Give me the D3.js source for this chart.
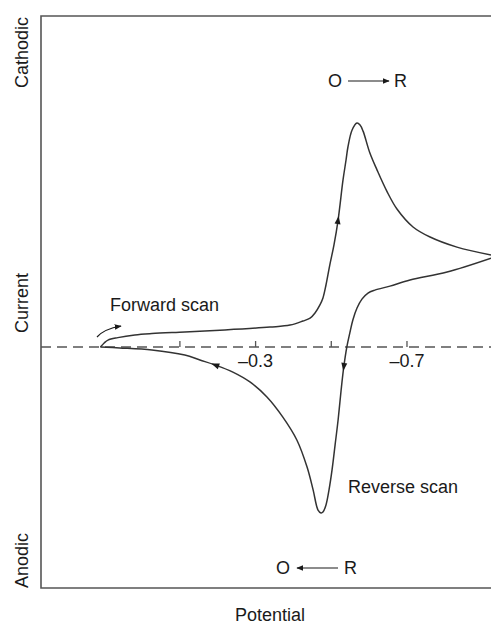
<!DOCTYPE html>
<html>
<head>
<meta charset="utf-8">
<script src="https://cdn.jsdelivr.net/npm/d3@7"></script>
<style>
  body { margin: 0; background: #fff; }
  svg text { font-family: "Liberation Sans", Arial, Helvetica, sans-serif; fill: #1a1a1a; }
</style>
</head>
<body>
<div id="chart"></div>
<script>
// forward scan (O -> R), potential in V, current in arbitrary units (cathodic +)
var fwdE = [0.11, 0.10, 0.09, 0.064, 0.019, -0.026, -0.113, -0.219, -0.338, -0.391, -0.425, -0.444,
  -0.457, -0.470, -0.478, -0.486, -0.496, -0.507, -0.518, -0.531, -0.539, -0.544, -0.555, -0.568,
  -0.576, -0.584, -0.602, -0.621, -0.647, -0.674, -0.716, -0.761, -0.832, -0.922];
var fwdI = [0, 0.18, 0.31, 0.42, 0.54, 0.60, 0.67, 0.76, 0.89, 0.98, 1.16, 1.29,
  1.52, 1.88, 2.19, 2.77, 3.66, 4.55, 5.67, 7.46, 8.35, 8.93, 9.69, 10.0,
  9.91, 9.64, 8.66, 7.90, 6.95, 6.15, 5.36, 4.91, 4.46, 4.11];

// reverse scan (R -> O)
var revE = [-0.922, -0.806, -0.708, -0.655, -0.615, -0.597, -0.581, -0.568, -0.557, -0.549, -0.541,
  -0.533, -0.526, -0.518, -0.510, -0.502, -0.494, -0.486, -0.478, -0.473, -0.465, -0.452, -0.436,
  -0.409, -0.372, -0.330, -0.285, -0.240, -0.193, -0.153, -0.113, -0.026, 0.059, 0.11];
var revI = [3.97, 3.35, 2.99, 2.72, 2.54, 2.41, 2.14, 1.74, 1.21, 0.63, 0,
  -0.89, -1.92, -3.26, -4.38, -5.49, -6.38, -7.05, -7.37, -7.41, -7.28, -6.38, -5.36,
  -4.15, -3.13, -2.23, -1.56, -1.12, -0.80, -0.58, -0.36, -0.13, -0.04, 0];

var tickValues = [-0.1, -0.3, -0.5, -0.7];
var tickLabels = {"-0.3": "\u20130.3", "-0.7": "\u20130.7"};

// arrowheads on the curve: [branch, index]
var curveArrows = [["fwd", 18], ["rev", 11], ["rev", 28]];

var width = 491, height = 624;
var svg = d3.select("#chart").append("svg")
  .attr("width", width)
  .attr("height", height);

var x = d3.scaleLinear().domain([0.267, -0.922]).range([41, 491]);
var y = d3.scaleLinear().domain([-10.76, 14.78]).range([588, 16]);

var fwd = fwdE.map(function(e, i) { return [e, fwdI[i]]; });
var rev = revE.map(function(e, i) { return [e, revI[i]]; });

svg.append("defs").append("marker")
  .attr("id", "head")
  .attr("viewBox", "0 0 10 10")
  .attr("refX", 9).attr("refY", 5)
  .attr("markerWidth", 7).attr("markerHeight", 7)
  .attr("markerUnits", "userSpaceOnUse")
  .attr("orient", "auto")
  .append("path")
  .attr("d", "M0,1 L10,5 L0,9 Z")
  .attr("fill", "#1a1a1a");

// frame
svg.append("path")
  .attr("d", "M" + x.range()[1] + "," + y.range()[1] + " H" + x.range()[0] +
    " V" + y.range()[0] + " H" + x.range()[1])
  .attr("fill", "none")
  .attr("stroke", "#555")
  .attr("stroke-width", 1.6);

// zero line
svg.append("line")
  .attr("x1", x.range()[0]).attr("x2", x.range()[1])
  .attr("y1", y(0)).attr("y2", y(0))
  .attr("stroke", "#555")
  .attr("stroke-width", 1.5)
  .attr("stroke-dasharray", "10,6");

svg.selectAll(".tick").data(tickValues).enter().append("line")
  .attr("class", "tick")
  .attr("x1", function(d) { return x(d); })
  .attr("x2", function(d) { return x(d); })
  .attr("y1", y(0)).attr("y2", y(0) - 6)
  .attr("stroke", "#555")
  .attr("stroke-width", 1.3);

svg.selectAll(".ticklab").data(tickValues.filter(function(d) { return tickLabels[d]; }))
  .enter().append("text")
  .attr("class", "ticklab")
  .attr("x", function(d) { return x(d); })
  .attr("y", y(0) + 20)
  .attr("text-anchor", "middle")
  .style("font-size", "18px")
  .text(function(d) { return tickLabels[d]; });

var line = d3.line()
  .x(function(d) { return x(d[0]); })
  .y(function(d) { return y(d[1]); })
  .curve(d3.curveCatmullRom.alpha(0.5));

[fwd, rev].forEach(function(data) {
  svg.append("path")
    .datum(data)
    .attr("d", line)
    .attr("fill", "none")
    .attr("stroke", "#333")
    .attr("stroke-width", 1.5);
});

// small arrowheads along the curve
curveArrows.forEach(function(a) {
  var data = a[0] == "fwd" ? fwd : rev;
  var p = data[a[1]], p0 = data[a[1] - 1], p1 = data[a[1] + 1];
  var ang = Math.atan2(y(p1[1]) - y(p0[1]), x(p1[0]) - x(p0[0])) * 180 / Math.PI;
  svg.append("path")
    .attr("d", "M4,0 L-4,-3 L-4,3 Z")
    .attr("transform", "translate(" + x(p[0]) + "," + y(p[1]) + ") rotate(" + ang + ")")
    .attr("fill", "#1a1a1a");
});

// curved arrow at the start of the forward scan
svg.append("path")
  .attr("d", "M97,337 Q104,329 121,326")
  .attr("fill", "none")
  .attr("stroke", "#1a1a1a")
  .attr("stroke-width", 1.2)
  .attr("marker-end", "url(#head)");

// labels
function label(txt, px, py, anchor, rot) {
  var t = svg.append("text")
    .attr("text-anchor", anchor || "start")
    .style("font-size", "18px")
    .text(txt);
  if (rot) {
    t.attr("transform", "translate(" + px + "," + py + ") rotate(-90)");
  } else {
    t.attr("x", px).attr("y", py);
  }
  return t;
}

label("Cathodic", 28, 17, "end", true);
label("Current", 28, 303, "middle", true);
label("Anodic", 28, 588, "start", true);
label("Potential", 270, 621, "middle");
label("Forward scan", 110, 311);
label("Reverse scan", 348, 493);

// O -> R
label("O", 328, 87);
label("R", 394, 87);
svg.append("line")
  .attr("x1", 348).attr("x2", 389).attr("y1", 81).attr("y2", 81)
  .attr("stroke", "#1a1a1a").attr("stroke-width", 1.2)
  .attr("marker-end", "url(#head)");

// O <- R
label("O", 276, 574);
label("R", 344, 574);
svg.append("line")
  .attr("x1", 338).attr("x2", 297).attr("y1", 568).attr("y2", 568)
  .attr("stroke", "#1a1a1a").attr("stroke-width", 1.2)
  .attr("marker-end", "url(#head)");
</script>
</body>
</html>
